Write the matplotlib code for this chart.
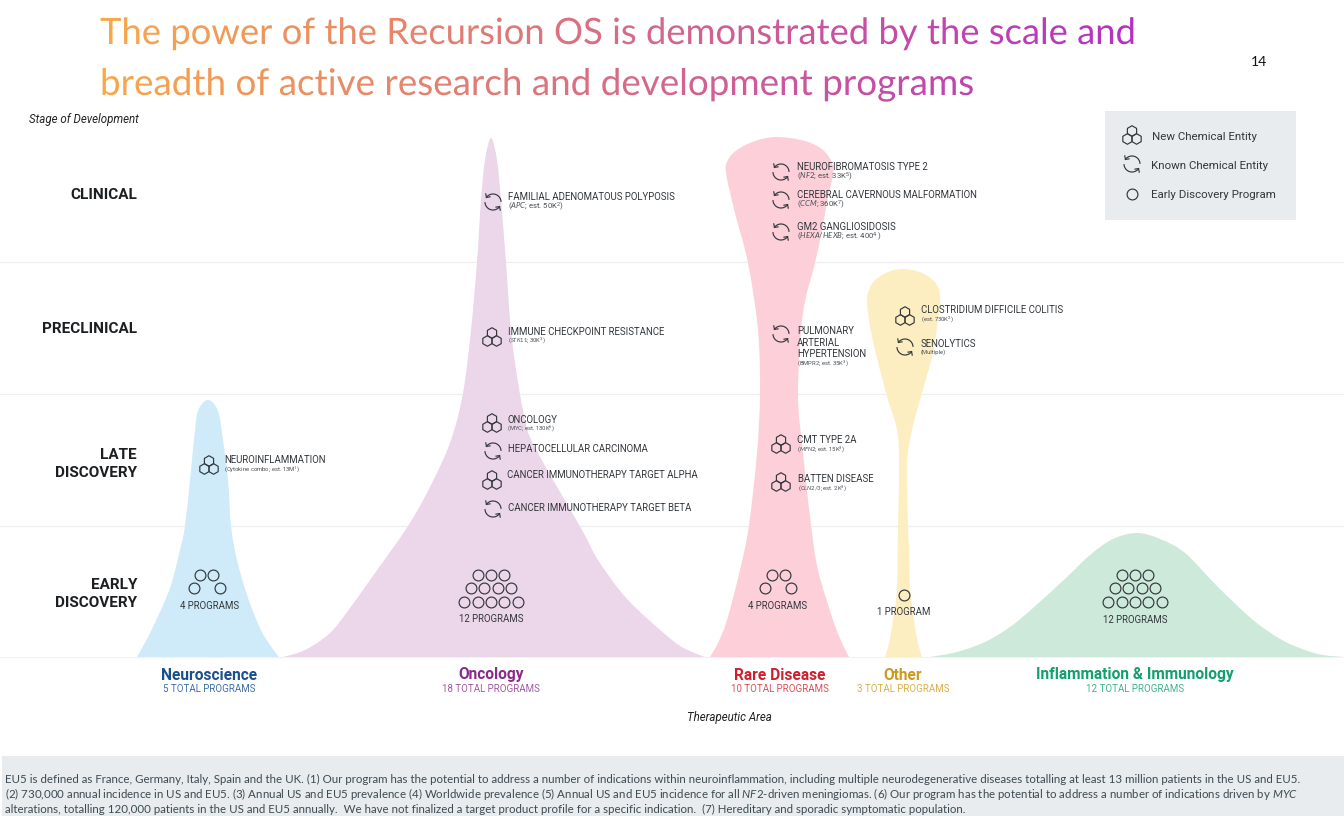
#!/usr/bin/env python
# -*- coding: utf-8 -*-

# Recursion pipeline slide: violin shaped program counts by therapeutic area

import numpy as np
import matplotlib
matplotlib.use('Agg')
import matplotlib.pyplot as plt
from matplotlib.patches import PathPatch, Rectangle, RegularPolygon
from matplotlib.path import Path
from matplotlib.patheffects import AbstractPathEffect
from matplotlib.transforms import Bbox
from matplotlib.colors import to_rgb

plt.rcParams['font.family'] = ['Roboto', 'DejaVu Sans']
plt.rcParams['mathtext.fontset'] = 'custom'
plt.rcParams['mathtext.it'] = 'Lato:italic'
plt.rcParams['mathtext.rm'] = 'Lato'
plt.rcParams['mathtext.default'] = 'regular'

# -----------------------------------------------------------------------------
# Data
# -----------------------------------------------------------------------------

title_lines = ['The power of the Recursion OS is demonstrated by the scale and',
               'breadth of active research and development programs']
stage_labels = ['CLINICAL', 'PRECLINICAL', 'LATE\nDISCOVERY', 'EARLY\nDISCOVERY']
stage_y = [195, 329, 464, 594]
stage_lines = [262, 394, 526]

areas = ['Neuroscience', 'Oncology', 'Rare Disease', 'Other', 'Inflammation & Immunology']
area_x = [209, 491, 780, 903, 1135]
totals = ['5 TOTAL PROGRAMS', '18 TOTAL PROGRAMS', '10 TOTAL PROGRAMS', '3 TOTAL PROGRAMS', '12 TOTAL PROGRAMS']
fills = ['#cfeaf8', '#ecd6e9', '#fccfd9', '#fdeec2', '#cde9da']
title_colors = ['#1a4f8f', '#8a2a8a', '#d0202e', '#cc9a1e', '#13a06e']
total_colors = ['#3f6fa8', '#a05aa0', '#d9505a', '#d8b04a', '#3fb58a']

# Outlines, from the left foot over the top to the right foot
neuro_x = [137, 148, 160, 171, 180, 185, 190, 194, 198, 208, 218, 223, 228, 231, 237, 247, 260, 270, 279]
neuro_y = [657, 637, 612, 585, 550, 526, 480, 440, 411, 400, 411, 440, 480, 526, 560, 595, 628, 645, 657]
onco_x = [283, 305, 330, 350, 370, 408, 432, 451, 463, 471, 477, 481, 485, 491, 497, 501, 506, 512, 525, 538, 582, 598, 628, 672, 690, 705]
onco_y = [657, 650, 633, 608, 580, 526, 483, 440, 393, 330, 262, 200, 160, 138, 160, 200, 262, 340, 420, 453, 530, 560, 600, 640, 651, 657]
rare_x = [710, 718, 727, 740, 749, 757, 760, 758, 748, 735, 726, 728, 737, 755, 777, 805, 823, 832, 833, 828, 822, 815, 803, 798, 803, 811, 818, 833, 842, 849]
rare_y = [657, 643, 620, 570, 525, 453, 393, 330, 263, 213, 173, 160, 150, 141, 137, 141, 150, 163, 175, 197, 230, 263, 313, 393, 453, 525, 570, 620, 643, 657]
other_x = [885, 889, 893, 897, 898, 899, 897, 886, 872, 867, 869, 875, 888, 903, 920, 933, 939, 940, 938, 933, 922, 912, 907, 908, 909, 910, 914, 918, 922]
other_y = [657, 643, 620, 587, 525, 465, 430, 393, 337, 303, 290, 280, 272, 269, 272, 280, 290, 303, 320, 353, 393, 430, 465, 525, 550, 587, 620, 643, 657]
infl_x = [930, 957, 985, 1010, 1033, 1067, 1090, 1113, 1137, 1160, 1185, 1217, 1253, 1282, 1305, 1323, 1344]
infl_y = [657, 652, 642, 627, 608, 577, 555, 539, 533, 539, 553, 586, 620, 640, 650, 655, 657]
outlines = [(neuro_x, neuro_y), (onco_x, onco_y), (rare_x, rare_y), (other_x, other_y), (infl_x, infl_y)]

# Program clusters: count label and circles per row
cluster_labels = ['4 PROGRAMS', '12 PROGRAMS', '4 PROGRAMS', '1 PROGRAM', '12 PROGRAMS']
cluster_label_x = [209.5, 491, 778, 904, 1135]
cluster_label_y = [606, 619, 606, 612, 620]

# kind, icon x, icon y, text x, name lines, name y, detail, detail y, detail size
programs = [
    ('known', 493, 202, 508.5, ['FAMILIAL ADENOMATOUS POLYPOSIS'], 196.5, r'($\mathit{APC}$; est. 50K$^{2}$)', 206.5, 5.6),
    ('known', 781, 172, 797, ['NEUROFIBROMATOSIS TYPE 2'], 166.5, r'($\mathit{NF2}$; est. 33K$^{5}$)', 177, 5.6),
    ('known', 781, 200, 797, ['CEREBRAL CAVERNOUS MALFORMATION'], 195, r'($\mathit{CCM}$; 360K$^{7}$)', 205, 5.6),
    ('known', 781, 232, 797, ['GM2 GANGLIOSIDOSIS'], 227, r'($\mathit{HEXA/HEXB}$; est. 400$^{4}$ )', 237, 5.6),
    ('new', 905, 316, 921, ['CLOSTRIDIUM DIFFICILE COLITIS'], 310, r'(est. 730K$^{2}$)', 319, 4.2),
    ('known', 905, 347, 921, ['SENOLYTICS'], 344, '(Multiple)', 352.5, 4.2),
    ('new', 492, 337, 508.5, ['IMMUNE CHECKPOINT RESISTANCE'], 332, r'($\mathit{STK11}$; 30K$^{3}$)', 340.5, 4.2),
    ('known', 781, 334, 797, ['PULMONARY', 'ARTERIAL', 'HYPERTENSION'], 331, r'(BMPR2; est. 35K$^{3}$)', 363, 4.2),
    ('new', 492, 423, 507, ['ONCOLOGY'], 420, r'(MYC; est. 130K$^{6}$)', 428.5, 4.2),
    ('known', 493, 451, 508.5, ['HEPATOCELLULAR CARCINOMA'], 449, None, 0, 0),
    ('new', 492, 480, 507, ['CANCER IMMUNOTHERAPY TARGET ALPHA'], 475, None, 0, 0),
    ('known', 493, 509, 508.5, ['CANCER IMMUNOTHERAPY TARGET BETA'], 508, None, 0, 0),
    ('new', 781, 444, 797, ['CMT TYPE 2A'], 440, r'($\mathit{MFN2}$; est. 15K$^{3}$)', 449, 4.2),
    ('new', 781, 482, 798, ['BATTEN DISEASE'], 479, r'($\mathit{CLN2/3}$; est. 2K$^{3}$)', 488, 4.2),
    ('new', 209, 465, 224, ['NEUROINFLAMMATION'], 460, r'(Cytokine combo; est. 13M$^{1}$)', 469, 4.2),
]

legend_kinds = ['new', 'known', 'early']
legend_labels = ['New Chemical Entity', 'Known Chemical Entity', 'Early Discovery Program']

footnote_lines = [
    'EU5 is defined as France, Germany, Italy, Spain and the UK. (1) Our program has the potential to address a number of indications within neuroinflammation, including multiple neurodegenerative diseases totalling at least 13 million patients in the US and EU5.',
    r'(2) 730,000 annual incidence in US and EU5. (3) Annual US and EU5 prevalence (4) Worldwide prevalence (5) Annual US and EU5 incidence for all $\mathit{NF2}$-driven meningiomas. (6) Our program has the potential to address a number of indications driven by $\mathit{MYC}$',
    'alterations, totalling 120,000 patients in the US and EU5 annually.  We have not finalized a target product profile for a specific indication.  (7) Hereditary and sporadic symptomatic population.',
]

INK = '#33383d'

# -----------------------------------------------------------------------------
# Helpers
# -----------------------------------------------------------------------------

class GradientFill(AbstractPathEffect):
    # Paints the glyphs band by band so that the title stays one text object
    def __init__(self, x0, x1, c0, c1, band=3):
        super().__init__()
        self.x0, self.x1, self.band = x0, x1, band
        self.c0, self.c1 = np.array(to_rgb(c0)), np.array(to_rgb(c1))

    def draw_path(self, renderer, gc, tpath, affine, rgbFace=None):
        for x in np.arange(self.x0 - 20, self.x1 + 60, self.band):
            f = np.clip((x - self.x0) / (self.x1 - self.x0), 0, 1)
            gc0 = renderer.new_gc()
            gc0.copy_properties(gc)
            gc0.set_clip_rectangle(Bbox([[x, 0], [x + self.band, 10000]]))
            renderer.draw_path(gc0, tpath, affine, tuple(self.c0 + f * (self.c1 - self.c0)))
            gc0.restore()


def outline_path(xs, ys):
    # Catmull-Rom curve through the read points, closed along the base
    p = np.column_stack([xs, ys]).astype(float)
    q = np.vstack([p[0], p, p[-1]])
    verts = [p[0]]
    codes = [Path.MOVETO]
    for i in range(1, len(q) - 2):
        verts += [q[i] + (q[i + 1] - q[i - 1]) / 6, q[i + 1] - (q[i + 2] - q[i]) / 6, q[i + 1]]
        codes += [Path.CURVE4] * 3
    verts.append(p[0])
    codes.append(Path.LINETO)
    return Path(np.array(verts), codes)


def draw_new(ax, x, y):
    r = 5.3
    for dx, dy in [(0, -0.75 * r), (-0.866 * r, 0.75 * r), (0.866 * r, 0.75 * r)]:
        ax.add_patch(RegularPolygon((x + dx, y + dy), 6, radius=r, fill=False,
                                    ec=INK, lw=0.85, joinstyle='round', zorder=3))


def draw_known(ax, x, y):
    r = 8.0
    barb = 3.6
    for a0, a1 in [(5, 145), (185, 325)]:
        t = np.radians(np.linspace(a0, a1, 40))
        ax.plot(x + r * np.cos(t), y - r * np.sin(t), color=INK, lw=0.85, zorder=3)
        # arrow head at the end of the arc, y axis points down
        end = np.radians(a1)
        px, py = x + r * np.cos(end), y - r * np.sin(end)
        back = end - np.pi / 2
        bx = [px + barb * np.cos(back + 0.8), px, px + barb * np.cos(back - 0.8)]
        by = [py - barb * np.sin(back + 0.8), py, py - barb * np.sin(back - 0.8)]
        ax.plot(bx, by, color=INK, lw=0.85, zorder=3)


def draw_early(ax, x, y):
    ax.plot([x], [y], 'o', ms=7.8, mfc='none', mec=INK, mew=0.85, zorder=3)


icon = {'new': draw_new, 'known': draw_known, 'early': draw_early}

# -----------------------------------------------------------------------------
# Figure
# -----------------------------------------------------------------------------

fig = plt.figure(figsize=(13.44, 8.16), dpi=100)
ax = fig.add_axes([0, 0, 1, 1])
ax.set_xlim(0, 1344)
ax.set_ylim(816, 0)
ax.axis('off')

for y in stage_lines:
    ax.axhline(y, color='#eeeeee', lw=0.9, zorder=0)

for (xs, ys), c in zip(outlines, fills):
    ax.add_patch(PathPatch(outline_path(xs, ys), fc=c, ec='none', zorder=1))
ax.axhline(657, color='#f2f2f2', lw=0.8, zorder=0)

# Title, gradient runs over the full width of the first line
for line, base, size in zip(title_lines, [44, 95], [26.2, 26.5]):
    ax.text(100, base, line, family=['Lato', 'DejaVu Sans'], fontsize=size, va='baseline',
            color='#d0609a', path_effects=[GradientFill(100, 1135, '#f9a848', '#b42fc4')])
ax.text(1259, 62, '14', family='Lato', fontsize=10, ha='center', va='center', color='#111111')
ax.text(29, 119, 'Stage of Development', style='italic', fontsize=8.3, va='center', color='#222222')
ax.text(729, 717, 'Therapeutic Area', style='italic', fontsize=8.3, ha='center', va='center', color='#222222')

for label, y in zip(stage_labels, stage_y):
    ax.text(137, y, label, fontsize=11, weight='bold', ha='right', va='center', color='#1c1f22',
            linespacing=1.45)

for name, x, total, c0, c1 in zip(areas, area_x, totals, title_colors, total_colors):
    ax.text(x, 675, name, fontsize=11.2, weight='bold', ha='center', va='center', color=c0)
    ax.text(x, 689, total, fontsize=7.0, ha='center', va='center', color=c1)

# Early discovery clusters
for label, x, y in zip(cluster_labels, cluster_label_x, cluster_label_y):
    ax.text(x, y, label, fontsize=6.9, ha='center', va='center', color=INK)

row_ys = [574.5, 588, 601.5]
for cx in [491, 1135]:
    for n, y in zip([3, 4, 5], row_ys):
        for i in range(n):
            draw_early(ax, cx + (i - (n - 1) / 2) * 13.3, y)
for cx in [206.5, 778]:
    for dx, y in [(-6.5, row_ys[0]), (6.5, row_ys[0]), (-13, row_ys[1]), (13, row_ys[1])]:
        draw_early(ax, cx + dx, y)
draw_early(ax, 904, 594.5)

# Named programs
for kind, ix, iy, tx, name, ny, detail, dy, dsize in programs:
    icon[kind](ax, ix, iy)
    for k, part in enumerate(name):
        ax.text(tx, ny + k * 11.5, part, fontsize=6.95, va='center', color=INK)
    if detail:
        ax.text(tx, dy, detail, fontsize=dsize, va='center', color='#4a4f55')

# Legend box
ax.add_patch(Rectangle((1105, 111), 191, 109, fc='#e9ecee', ec='none', zorder=1))
for kind, label, iy, tx in zip(legend_kinds, legend_labels, [135, 164, 194], [1152, 1151, 1151]):
    icon[kind](ax, 1132, iy)
    ax.text(tx, iy + (2 if kind != 'early' else 1), label, fontsize=8.25, va='center', color=INK)

# Footnotes
ax.add_patch(Rectangle((2, 756), 1342, 60, fc='#e9ecee', ec='none', zorder=1))
for line, y in zip(footnote_lines, [779, 794.5, 809.5]):
    ax.text(5, y, line, family='Lato', fontsize=8.3, va='center', color='#3c4a52')

fig.savefig('out.png', dpi=100)
